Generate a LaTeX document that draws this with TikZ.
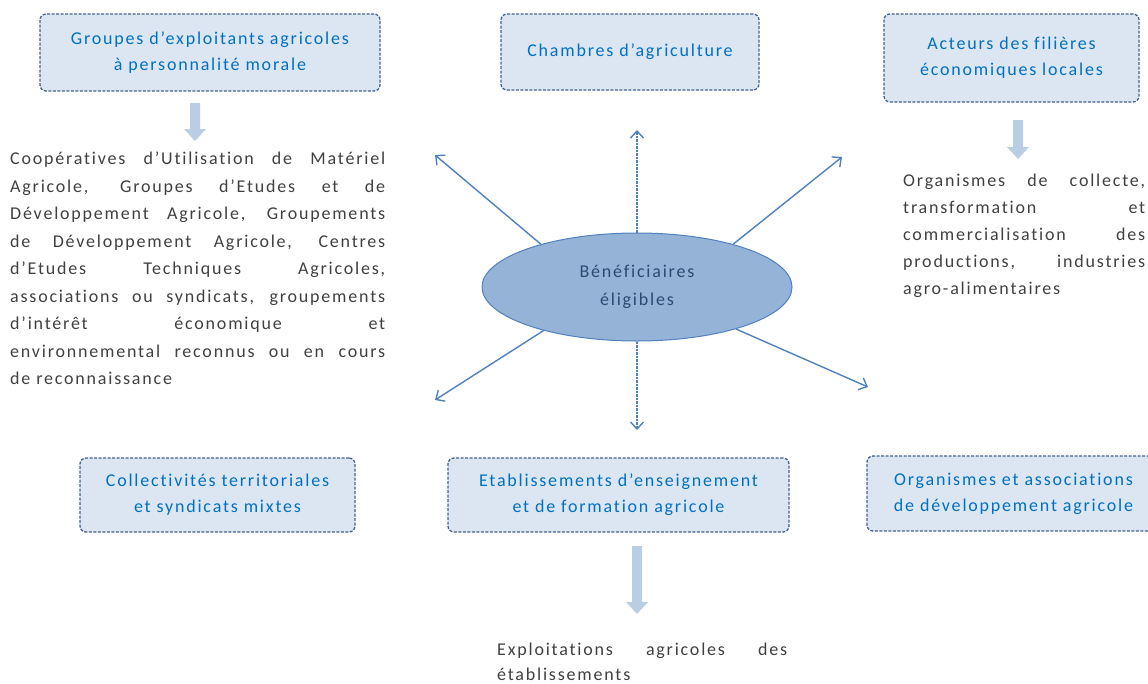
\documentclass[tikz,border=0pt]{standalone}
\usepackage{fontspec}
\setmainfont{Carlito}[LetterSpace=10,Ligatures={NoCommon}]
\usetikzlibrary{arrows.meta,shapes.geometric}
\definecolor{boxfill}{HTML}{DCE6F2}
\definecolor{boxdraw}{HTML}{44648C}
\definecolor{boxtext}{HTML}{0070C0}
\definecolor{ellfill}{HTML}{95B3D7}
\definecolor{elldraw}{HTML}{4F81BD}
\definecolor{elltext}{HTML}{2A4A70}
\definecolor{arrcol}{HTML}{4F81BD}
\definecolor{blkcol}{HTML}{B9CDE5}
\definecolor{paracol}{HTML}{404040}
\newcommand{\jl}[2]{\makebox[#1][s]{#2}}
\newcommand{\blkarrow}[3]{\fill[blkcol] (#1-5,#2) -- (#1+5,#2) -- (#1+5,#3-12) -- (#1+11,#3-12) -- (#1,#3) -- (#1-11,#3-12) -- (#1-5,#3-12) -- cycle;}
\begin{document}
\begin{tikzpicture}[x=1pt,y=-1pt,
  catbox/.style={draw=boxdraw, fill=boxfill, dash pattern=on 3pt off 1.5pt, line width=1.3pt,
    rounded corners=6pt, text=boxtext, align=center, font=\fontsize{18}{26}\selectfont, inner sep=0pt},
  ell/.style={ellipse, draw=elldraw, fill=ellfill, line width=1pt, text=elltext, align=center,
    font=\fontsize{18}{28}\selectfont, inner sep=0pt},
  conn/.style={draw=arrcol, line width=1.4pt, -{Straight Barb[length=7pt,width=13pt,line width=1.4pt]}},
  vconn/.style={conn, dash pattern=on 2.5pt off 1pt},
  paratext/.style={text=paracol, align=left, inner sep=0pt},
]
\useasboundingbox (0,0) rectangle (1148,683);

% boxes
\node[catbox, minimum width=340pt, minimum height=77pt] (g1) at (210,52.5) {Groupes d’exploitants agricoles\\à personnalité morale};
\node[catbox, minimum width=258pt, minimum height=76pt] (g2) at (630,52) {Chambres d’agriculture};
\node[catbox, minimum width=255pt, minimum height=88pt] (g3) at (1011.5,58) {Acteurs des filières\\économiques locales};
\node[catbox, minimum width=275pt, minimum height=74pt] (g4) at (217.5,495) {Collectivités territoriales\\et syndicats mixtes};
\node[catbox, minimum width=341pt, minimum height=74pt] (g5) at (618.5,495) {Etablissements d’enseignement\\et de formation agricole};
\node[catbox, minimum width=293pt, minimum height=75pt] (g6) at (1013.5,493.5) {Organismes et associations\\de développement agricole};

% central ellipse
\node[ell, minimum width=310pt, minimum height=108pt] (ben) at (637,287) {Bénéficiaires\\éligibles};

% arrow ends
\coordinate (cu) at (637,130);
\coordinate (cul) at (435,155);
\coordinate (cur) at (842,157);
\coordinate (cdl) at (435,400);
\coordinate (cd) at (637,430);
\coordinate (cdr) at (868,387);

\draw[vconn] (ben.90) -- (cu);
\draw[conn] (ben.156) -- (cul);
\draw[conn] (ben.24) -- (cur);
\draw[conn] (ben.205) -- (cdl);
\draw[vconn] (ben.270) -- (cd);
\draw[conn] (ben.337) -- (cdr);

% block arrows
\blkarrow{195}{103}{141}
\blkarrow{1018}{120}{159}
\blkarrow{637}{546}{614}

% paragraphs
\node[paratext, anchor=north west, font=\fontsize{18}{27.5}\selectfont] (t1) at (10,152) {%
\jl{375pt}{Coopératives d’Utilisation de Matériel}\\
\jl{375pt}{Agricole, Groupes d’Etudes et de}\\
\jl{375pt}{Développement Agricole, Groupements}\\
\jl{375pt}{de Développement Agricole, Centres}\\
\jl{375pt}{d’Etudes Techniques Agricoles,}\\
\jl{375pt}{associations ou syndicats, groupements}\\
\jl{375pt}{d’intérêt économique et}\\
\jl{375pt}{environnemental reconnus ou en cours}\\
de reconnaissance};

\node[paratext, anchor=north west, font=\fontsize{18}{27}\selectfont] (t2) at (903,174) {%
\jl{242pt}{Organismes de collecte,}\\
\jl{242pt}{transformation et}\\
\jl{242pt}{commercialisation des}\\
\jl{242pt}{productions, industries}\\
agro-alimentaires};

\node[paratext, anchor=north west, font=\fontsize{18}{25}\selectfont] (t3) at (497,643) {%
\jl{290pt}{Exploitations agricoles des}\\
établissements};
\end{tikzpicture}
\end{document}
